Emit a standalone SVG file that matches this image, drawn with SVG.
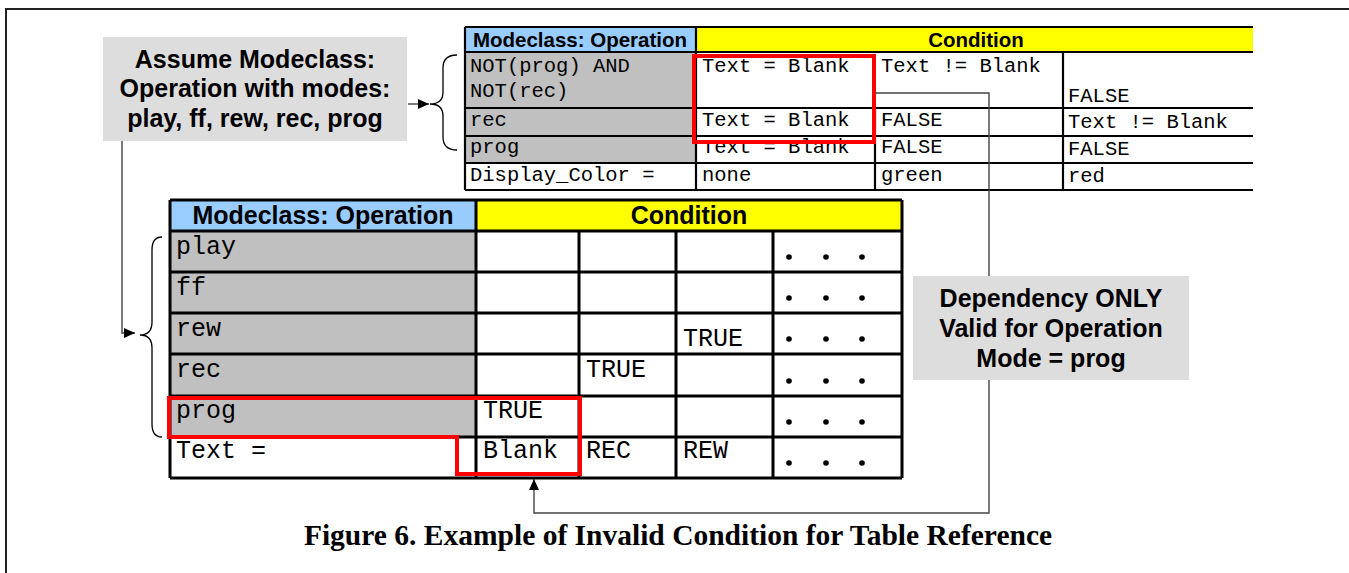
<svg xmlns="http://www.w3.org/2000/svg" width="1349" height="573" viewBox="0 0 1349 573">
<style>
.bold{font-family:"Liberation Sans",Arial,sans-serif;font-weight:bold;fill:#000}
.mono{font-family:"Liberation Mono","Courier New",monospace;fill:#000}
.t1{font-size:20.5px}
.t2{font-size:25px}
.grid1{stroke:#000;stroke-width:2.2;fill:none}
.grid2{stroke:#000;stroke-width:3;fill:none}
.red{stroke:#FF0000;stroke-width:4;fill:none}
.conn{stroke:#444;stroke-width:1.4;fill:none}
.brace{stroke:#000;stroke-width:1.3;fill:none}
.note{fill:#DDDDDD}
</style>
<defs>
<marker id="ah" markerUnits="userSpaceOnUse" markerWidth="12" markerHeight="12" refX="11" refY="5" orient="auto">
<path d="M0,0 L11,5 L0,10 z" fill="#000"/>
</marker>
</defs>
<rect x="6" y="9" width="1400" height="600" fill="none" stroke="#222" stroke-width="2"/>

<g id="top-table">
<rect x="465" y="27" width="231" height="25" fill="#99CCFF"/>
<rect x="696" y="27" width="557" height="25" fill="#FFFF00"/>
<rect x="465" y="52" width="231" height="111" fill="#C0C0C0"/>
<path class="grid1" d="M465,27 H1253 M465,52 H1253 M465,108 H1253 M465,136 H1253 M465,163 H1253 M465,190 H1253 M465,27 V190 M696,27 V190 M875,108 V190 M1063,52 V190"/>
<text class="bold" x="580" y="47" font-size="20.5" text-anchor="middle">Modeclass: Operation</text>
<text class="bold" x="976" y="47" font-size="20.5" text-anchor="middle">Condition</text>
<g class="mono t1">
<text x="470" y="72">NOT(prog) AND</text>
<text x="470" y="97">NOT(rec)</text>
<text x="470" y="126">rec</text>
<text x="470" y="153">prog</text>
<text x="470" y="181">Display_Color =</text>
<text x="702" y="72">Text = Blank</text>
<text x="702" y="126">Text = Blank</text>
<text x="702" y="153">Text = Blank</text>
<text x="702" y="181">none</text>
<text x="881" y="72">Text != Blank</text>
<text x="881" y="126">FALSE</text>
<text x="881" y="153">FALSE</text>
<text x="881" y="181">green</text>
<text x="1068" y="102">FALSE</text>
<text x="1068" y="128">Text != Blank</text>
<text x="1068" y="155">FALSE</text>
<text x="1068" y="182">red</text>
</g>
<rect class="red" x="694" y="56" width="180" height="86" stroke-width="3.5"/>
</g>

<g id="bottom-table">
<rect x="170" y="200" width="306" height="31" fill="#99CCFF"/>
<rect x="476" y="200" width="426" height="31" fill="#FFFF00"/>
<rect x="170" y="231" width="306" height="206" fill="#C0C0C0"/>
<path class="grid2" d="M170,200 H902 M170,231 H902 M170,272 H902 M170,313 H902 M170,354 H902 M170,396 H902 M170,437 H902 M170,478 H902 M170,200 V478 M476,200 V478 M579,231 V478 M676,231 V478 M773,231 V478 M902,200 V478"/>
<text class="bold" x="323" y="224" font-size="25" text-anchor="middle">Modeclass: Operation</text>
<text class="bold" x="689" y="224" font-size="25" text-anchor="middle">Condition</text>
<g class="mono t2">
<text x="176" y="254">play</text>
<text x="176" y="295">ff</text>
<text x="176" y="336">rew</text>
<text x="176" y="377">rec</text>
<text x="176" y="418">prog</text>
<text x="176" y="458">Text =</text>
<text x="683" y="346">TRUE</text>
<text x="586" y="377">TRUE</text>
<text x="483" y="418">TRUE</text>
<text x="483" y="458">Blank</text>
<text x="586" y="458">REC</text>
<text x="683" y="458">REW</text>
</g>
<g fill="#000">
<circle cx="789" cy="257" r="2.8"/><circle cx="826" cy="257" r="2.8"/><circle cx="862" cy="257" r="2.8"/>
<circle cx="789" cy="298" r="2.8"/><circle cx="826" cy="298" r="2.8"/><circle cx="862" cy="298" r="2.8"/>
<circle cx="789" cy="339" r="2.8"/><circle cx="826" cy="339" r="2.8"/><circle cx="862" cy="339" r="2.8"/>
<circle cx="789" cy="381" r="2.8"/><circle cx="826" cy="381" r="2.8"/><circle cx="862" cy="381" r="2.8"/>
<circle cx="789" cy="422" r="2.8"/><circle cx="826" cy="422" r="2.8"/><circle cx="862" cy="422" r="2.8"/>
<circle cx="789" cy="463" r="2.8"/><circle cx="826" cy="463" r="2.8"/><circle cx="862" cy="463" r="2.8"/>
</g>
<path class="red" d="M169,398 H580 V474 H457 V437 H169 Z"/>
</g>

<g id="connectors">
<path class="brace" d="M457,55 Q443,55 443,68 L443,92 Q443,104 430,104 Q443,104 443,116 L443,137 Q443,150 457,150"/>
<path class="brace" d="M162,237 Q152,237 152,250 L152,322 Q152,335 140,335 Q152,335 152,348 L152,424 Q152,437 162,437"/>
<path class="conn" d="M408,104 H429" marker-end="url(#ah)"/>
<path class="conn" d="M122,141 V333 H135" marker-end="url(#ah)"/>
<path class="conn" d="M875,93 H989 V513 H534 V479" marker-end="url(#ah)"/>
</g>

<g id="assume-note">
<rect class="note" x="103" y="37" width="304" height="104"/>
<text class="bold" x="255" y="68" font-size="25" text-anchor="middle">Assume Modeclass:</text>
<text class="bold" x="255" y="97" font-size="25" text-anchor="middle">Operation with modes:</text>
<text class="bold" x="255" y="127" font-size="25" text-anchor="middle">play, ff, rew, rec, prog</text>
</g>

<g id="dependency-note">
<rect class="note" x="913" y="276" width="276" height="104"/>
<text class="bold" x="1051" y="307" font-size="25" text-anchor="middle">Dependency ONLY</text>
<text class="bold" x="1051" y="337" font-size="25" text-anchor="middle">Valid for Operation</text>
<text class="bold" x="1051" y="367" font-size="25" text-anchor="middle">Mode = prog</text>
</g>

<text x="678" y="545" font-family="'Liberation Serif','Times New Roman',serif" font-weight="bold" font-size="29.5" text-anchor="middle">Figure 6. Example of Invalid Condition for Table Reference</text>
</svg>
